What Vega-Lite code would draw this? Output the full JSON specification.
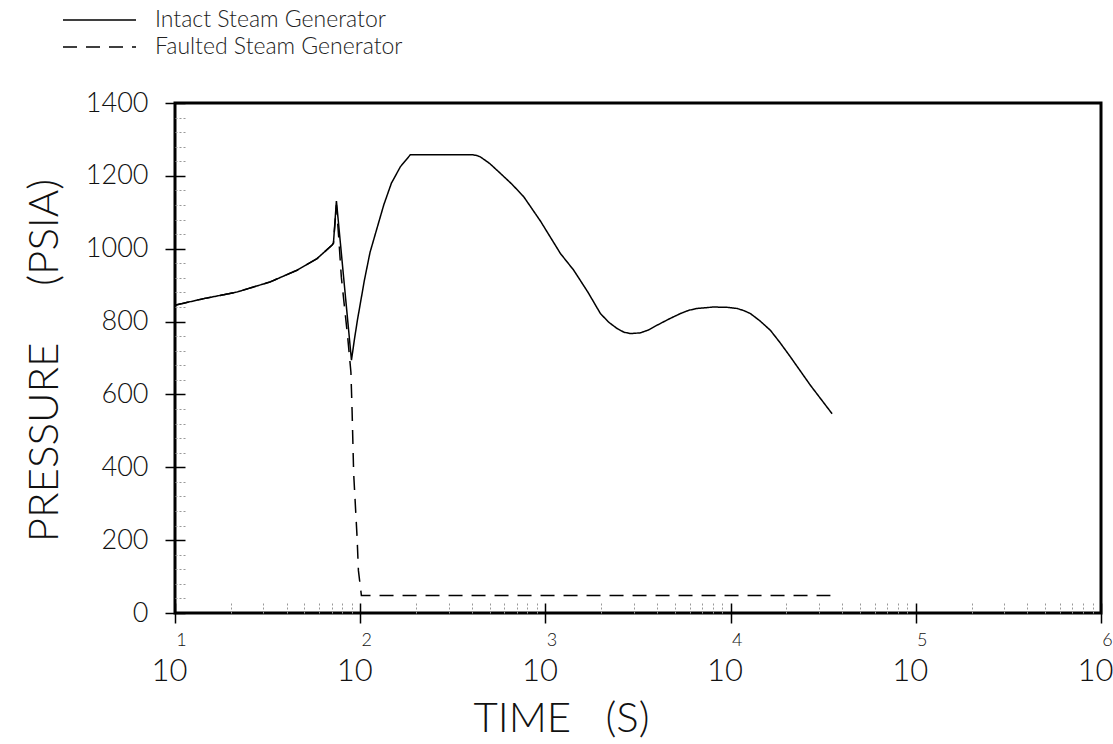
{
  "$schema": "https://vega.github.io/schema/vega-lite/v6.json",
  "width": 926,
  "height": 510,
  "autosize": {"type": "none"},
  "padding": {"left": 175, "top": 103, "right": 12, "bottom": 131},
  "background": "white",
  "config": {
    "view": {"stroke": "black", "strokeWidth": 3},
    "font": "Lato, Liberation Sans, sans-serif",
    "axis": {"grid": false, "domain": false, "labelColor": "#111", "titleColor": "#111", "titleFontWeight": 300, "labelFontWeight": 300, "labelFlush": false, "labelOverlap": false},
    "legend": {
      "orient": "none",
      "legendX": -113,
      "legendY": -93,
      "symbolType": "stroke",
      "symbolSize": 5329,
      "symbolStrokeWidth": 1.5,
      "symbolStrokeColor": "black",
      "clipHeight": 20,
      "labelFontSize": 23,
      "labelFontWeight": 300,
      "labelOffset": 18,
      "labelLimit": 0,
      "rowPadding": 4,
      "labelColor": "#222"
    }
  },
  "data": {
    "values": [
      {"series": "Intact Steam Generator", "t": 10, "p": 845},
      {"series": "Intact Steam Generator", "t": 14.3, "p": 863},
      {"series": "Intact Steam Generator", "t": 21.6, "p": 881},
      {"series": "Intact Steam Generator", "t": 32.7, "p": 909},
      {"series": "Intact Steam Generator", "t": 45.6, "p": 941},
      {"series": "Intact Steam Generator", "t": 58.5, "p": 973},
      {"series": "Intact Steam Generator", "t": 70.5, "p": 1010},
      {"series": "Intact Steam Generator", "t": 71.7, "p": 1015},
      {"series": "Intact Steam Generator", "t": 74.4, "p": 1131},
      {"series": "Intact Steam Generator", "t": 89.7, "p": 694},
      {"series": "Intact Steam Generator", "t": 93, "p": 750},
      {"series": "Intact Steam Generator", "t": 96.6, "p": 804},
      {"series": "Intact Steam Generator", "t": 105.4, "p": 914},
      {"series": "Intact Steam Generator", "t": 113, "p": 990},
      {"series": "Intact Steam Generator", "t": 122.4, "p": 1051},
      {"series": "Intact Steam Generator", "t": 134, "p": 1120},
      {"series": "Intact Steam Generator", "t": 147.4, "p": 1180},
      {"series": "Intact Steam Generator", "t": 164.8, "p": 1225},
      {"series": "Intact Steam Generator", "t": 186.6, "p": 1258},
      {"series": "Intact Steam Generator", "t": 402, "p": 1258},
      {"series": "Intact Steam Generator", "t": 425, "p": 1256},
      {"series": "Intact Steam Generator", "t": 445.7, "p": 1252},
      {"series": "Intact Steam Generator", "t": 500, "p": 1234},
      {"series": "Intact Steam Generator", "t": 571, "p": 1207},
      {"series": "Intact Steam Generator", "t": 660, "p": 1177},
      {"series": "Intact Steam Generator", "t": 763, "p": 1143},
      {"series": "Intact Steam Generator", "t": 940, "p": 1076},
      {"series": "Intact Steam Generator", "t": 1205, "p": 987},
      {"series": "Intact Steam Generator", "t": 1422, "p": 941},
      {"series": "Intact Steam Generator", "t": 1700, "p": 880},
      {"series": "Intact Steam Generator", "t": 1982, "p": 822},
      {"series": "Intact Steam Generator", "t": 2200, "p": 798},
      {"series": "Intact Steam Generator", "t": 2438, "p": 781},
      {"series": "Intact Steam Generator", "t": 2650, "p": 771},
      {"series": "Intact Steam Generator", "t": 2877, "p": 767},
      {"series": "Intact Steam Generator", "t": 3258, "p": 769},
      {"series": "Intact Steam Generator", "t": 3600, "p": 777},
      {"series": "Intact Steam Generator", "t": 4009, "p": 790},
      {"series": "Intact Steam Generator", "t": 4650, "p": 807},
      {"series": "Intact Steam Generator", "t": 5357, "p": 822},
      {"series": "Intact Steam Generator", "t": 5950, "p": 831},
      {"series": "Intact Steam Generator", "t": 6591, "p": 836},
      {"series": "Intact Steam Generator", "t": 8110, "p": 840},
      {"series": "Intact Steam Generator", "t": 9600, "p": 839},
      {"series": "Intact Steam Generator", "t": 10840, "p": 836},
      {"series": "Intact Steam Generator", "t": 11800, "p": 830},
      {"series": "Intact Steam Generator", "t": 12790, "p": 822},
      {"series": "Intact Steam Generator", "t": 14400, "p": 802},
      {"series": "Intact Steam Generator", "t": 16400, "p": 776},
      {"series": "Intact Steam Generator", "t": 18500, "p": 742},
      {"series": "Intact Steam Generator", "t": 21040, "p": 703},
      {"series": "Intact Steam Generator", "t": 26980, "p": 625},
      {"series": "Intact Steam Generator", "t": 35320, "p": 547},
      {"series": "Faulted Steam Generator", "t": 10, "p": 845},
      {"series": "Faulted Steam Generator", "t": 14.3, "p": 863},
      {"series": "Faulted Steam Generator", "t": 21.6, "p": 881},
      {"series": "Faulted Steam Generator", "t": 32.7, "p": 909},
      {"series": "Faulted Steam Generator", "t": 45.6, "p": 941},
      {"series": "Faulted Steam Generator", "t": 58.5, "p": 973},
      {"series": "Faulted Steam Generator", "t": 70.5, "p": 1010},
      {"series": "Faulted Steam Generator", "t": 71.7, "p": 1015},
      {"series": "Faulted Steam Generator", "t": 74.4, "p": 1120},
      {"series": "Faulted Steam Generator", "t": 76.5, "p": 1033},
      {"series": "Faulted Steam Generator", "t": 79.1, "p": 922},
      {"series": "Faulted Steam Generator", "t": 85.8, "p": 752},
      {"series": "Faulted Steam Generator", "t": 89.1, "p": 661},
      {"series": "Faulted Steam Generator", "t": 90.4, "p": 556},
      {"series": "Faulted Steam Generator", "t": 92.2, "p": 383},
      {"series": "Faulted Steam Generator", "t": 96.2, "p": 208},
      {"series": "Faulted Steam Generator", "t": 97.8, "p": 117},
      {"series": "Faulted Steam Generator", "t": 101.5, "p": 48},
      {"series": "Faulted Steam Generator", "t": 34590, "p": 48}
    ]
  },
  "layer": [
    {
      "mark": {"type": "line", "color": "black", "strokeWidth": 1.5},
      "encoding": {
        "x": {
          "field": "t", "type": "quantitative",
          "scale": {"type": "log", "domain": [10, 1000000]},
          "axis": {
            "orient": "bottom",
            "values": [10, 100, 1000, 10000, 100000, 1000000],
            "tickSize": 10, "tickColor": "black", "tickWidth": 1.5,
            "labelExpr": "'' + round(log(datum.value)/LN10)",
            "labelFontSize": 18, "labelOffset": 6, "labelPadding": 8,
            "title": null
          }
        },
        "y": {
          "field": "p", "type": "quantitative",
          "scale": {"domain": [0, 1400]},
          "axis": {
            "orient": "left",
            "values": [0, 200, 400, 600, 800, 1000, 1200, 1400],
            "format": "d",
            "tickSize": 10, "tickColor": "black", "tickWidth": 1.5,
            "labelFontSize": 27, "labelPadding": 17,
            "title": "PRESSURE\u00a0\u00a0\u00a0\u00a0\u00a0(PSIA)",
            "titleFontSize": 42, "titleX": -131, "titleY": 257,
            "titleBaseline": "middle", "titleAlign": "center", "titleAngle": 270
          }
        },
        "strokeDash": {
          "field": "series", "type": "nominal",
          "scale": {"domain": ["Intact Steam Generator", "Faulted Steam Generator"], "range": [[1, 0], [14, 9]]},
          "legend": {"title": null}
        }
      }
    },
    {
      "mark": {"type": "point", "opacity": 0},
      "encoding": {
        "x": {
          "field": "t", "type": "quantitative",
          "scale": {"type": "log", "domain": [10, 1000000]},
          "axis": {
            "orient": "bottom",
            "values": [20, 30, 40, 50, 60, 70, 80, 90, 200, 300, 400, 500, 600, 700, 800, 900, 2000, 3000, 4000, 5000, 6000, 7000, 8000, 9000, 20000, 30000, 40000, 50000, 60000, 70000, 80000, 90000, 200000, 300000, 400000, 500000, 600000, 700000, 800000, 900000],
            "tickSize": -12, "tickColor": "#999", "tickWidth": 1, "tickDash": [2, 2],
            "labels": false, "title": null
          }
        },
        "y": {
          "field": "p", "type": "quantitative",
          "scale": {"domain": [0, 1400]},
          "axis": {
            "orient": "left",
            "values": [40, 80, 120, 160, 240, 280, 320, 360, 440, 480, 520, 560, 640, 680, 720, 760, 840, 880, 920, 960, 1040, 1080, 1120, 1160, 1240, 1280, 1320, 1360],
            "tickSize": -10, "tickColor": "#999", "tickWidth": 1, "tickDash": [2, 2],
            "labels": false, "title": null
          }
        }
      }
    },
    {
      "mark": {"type": "point", "opacity": 0},
      "encoding": {
        "x": {
          "field": "t", "type": "quantitative",
          "scale": {"type": "log", "domain": [10, 1000000]},
          "axis": {
            "orient": "bottom",
            "values": [10, 100, 1000, 10000, 100000, 1000000],
            "tickSize": -10, "tickColor": "black", "tickWidth": 1.5,
            "labels": false, "title": null
          }
        },
        "y": {
          "field": "p", "type": "quantitative",
          "scale": {"domain": [0, 1400]},
          "axis": {
            "orient": "left",
            "values": [0, 200, 400, 600, 800, 1000, 1200, 1400],
            "tickSize": -10, "tickColor": "black", "tickWidth": 1.5,
            "labels": false, "title": null
          }
        }
      }
    },
    {
      "mark": {"type": "point", "opacity": 0},
      "encoding": {
        "x": {
          "field": "t", "type": "quantitative",
          "scale": {"type": "log", "domain": [10, 1000000]},
          "axis": {
            "orient": "bottom",
            "values": [10, 100, 1000, 10000, 100000, 1000000],
            "ticks": false,
            "labelExpr": "'10'",
            "labelFontSize": 31, "labelOffset": -6, "labelPadding": 43,
            "title": "TIME\u00a0\u00a0\u00a0(S)",
            "titleFontSize": 42, "titleX": 386, "titleY": 85,
            "titleBaseline": "top", "titleAlign": "center"
          }
        },
        "y": {
          "field": "p", "type": "quantitative",
          "scale": {"domain": [0, 1400]},
          "axis": null
        }
      }
    }
  ],
  "resolve": {"axis": {"x": "independent", "y": "independent"}}
}
